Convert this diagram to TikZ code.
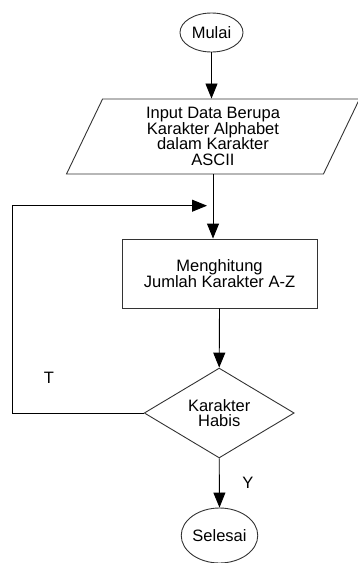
\documentclass[tikz,border=0pt]{standalone}
\usepackage{fontspec}
\setmainfont{Liberation Sans}
\usetikzlibrary{shapes.geometric,arrows.meta}
\begin{document}
\begin{tikzpicture}[x=1pt,y=1pt,
  every node/.style={font=\fontsize{16.5}{15.4}\selectfont},
  base/.style={draw=black!80,line width=0.9pt,inner sep=0pt,align=center},
  term/.style={base,ellipse},
  io/.style={base,trapezium,trapezium left angle=58,trapezium right angle=122,trapezium stretches body},
  proc/.style={base,rectangle},
  dec/.style={base,diamond},
  conn/.style={draw=black,line width=0.9pt,-{Triangle[length=15pt,width=12pt]}},
  lbl/.style={inner sep=0pt}]
\useasboundingbox (0,0) rectangle (357,-563);
\node[term,minimum width=63,minimum height=39] (mulai) at (211.5,-32.5) {Mulai};
\node[io,minimum width=293,minimum height=75] (input) at (213,-136.5) {Input Data Berupa\\Karakter Alphabet\\dalam Karakter\\ASCII};
\node[proc,minimum width=195,minimum height=69] (calc) at (219.5,-273.5) {Menghitung\\Jumlah Karakter A-Z};
\node[dec,minimum width=150,minimum height=69] (dec) at (219.2,-413) {Karakter\\Habis};
\node[term,minimum width=73,minimum height=55] (selesai) at (219.5,-535.5) {Selesai};
\coordinate (lc) at (12,-205.7);
\coordinate (j) at (207,-205.7);
\draw[conn] (mulai.south) -- (mulai.south |- input.north);
\draw[conn] (input.south) -- (input.south |- calc.north);
\draw[conn] (calc.south) -- (dec.north);
\draw[conn] (dec.south) -- (selesai.north);
\draw[conn] (dec.west) -| (lc) -- (j);
\node[lbl] (t) at (49,-377.5) {T};
\node[lbl] (y) at (248,-483) {Y};
\end{tikzpicture}
\end{document}
